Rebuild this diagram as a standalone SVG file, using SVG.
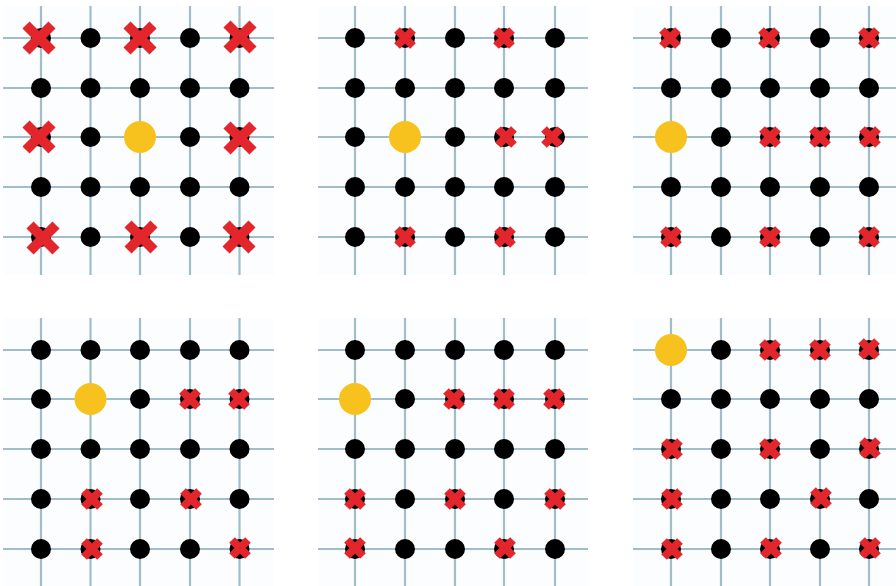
<svg xmlns="http://www.w3.org/2000/svg" width="896" height="586" viewBox="0 0 896 586">
<style>
.bg{fill:#fcfdfe}
.grid line{stroke:#a2bdca;stroke-width:2.2}
.dot{fill:#000}
.start{fill:#f8c21e}
.xb path{stroke:#e2262b;stroke-width:10;fill:none}
.xs path{stroke:#e2262b;stroke-width:8;fill:none}
</style>
<defs>
<circle id="d" class="dot" r="10"/>
<circle id="y" class="start" r="16"/>
<g id="XB" class="xb"><path d="M-13,-13L13,13M13,-13L-13,13"/></g>
<g id="XS" class="xs"><path d="M-8,-8L8,8M8,-8L-8,8"/></g>
</defs>
<rect width="896" height="586" fill="#fff"/>

<!-- Panel 1 -->
<g id="panel1">
<rect class="bg" x="3" y="6" width="271" height="269"/>
<g class="grid" id="grid1">
<line x1="3" y1="38" x2="274" y2="38"/><line x1="3" y1="88" x2="274" y2="88"/><line x1="3" y1="137" x2="274" y2="137"/><line x1="3" y1="187" x2="274" y2="187"/><line x1="3" y1="237" x2="274" y2="237"/>
<line x1="41" y1="6" x2="41" y2="275"/><line x1="90.5" y1="6" x2="90.5" y2="275"/><line x1="140" y1="6" x2="140" y2="275"/><line x1="190" y1="6" x2="190" y2="275"/><line x1="239.5" y1="6" x2="239.5" y2="275"/>
</g>
<g id="p1-dots">
<use href="#d" x="41" y="38"/><use href="#d" x="90.5" y="38"/><use href="#d" x="140" y="38"/><use href="#d" x="190" y="38"/><use href="#d" x="239.5" y="38"/>
<use href="#d" x="41" y="88"/><use href="#d" x="90.5" y="88"/><use href="#d" x="140" y="88"/><use href="#d" x="190" y="88"/><use href="#d" x="239.5" y="88"/>
<use href="#d" x="41" y="137"/><use href="#d" x="90.5" y="137"/><use href="#d" x="190" y="137"/><use href="#d" x="239.5" y="137"/>
<use href="#d" x="41" y="187"/><use href="#d" x="90.5" y="187"/><use href="#d" x="140" y="187"/><use href="#d" x="190" y="187"/><use href="#d" x="239.5" y="187"/>
<use href="#d" x="41" y="237"/><use href="#d" x="90.5" y="237"/><use href="#d" x="140" y="237"/><use href="#d" x="190" y="237"/><use href="#d" x="239.5" y="237"/>
</g>
<use id="p1-start" href="#y" x="140" y="137"/>
<g id="p1-marks">
<use href="#XB" x="39" y="38"/><use href="#XB" x="140" y="38"/><use href="#XB" x="240" y="37"/>
<use href="#XB" x="39" y="137"/><use href="#XB" x="240" y="138"/>
<use href="#XB" x="43" y="238"/><use href="#XB" x="141" y="237"/><use href="#XB" x="239" y="237"/>
</g>
</g>

<!-- Panel 2 -->
<g id="panel2">
<rect class="bg" x="318" y="6" width="270" height="269"/>
<g class="grid" id="grid2">
<line x1="318" y1="38" x2="588" y2="38"/><line x1="318" y1="88" x2="588" y2="88"/><line x1="318" y1="137" x2="588" y2="137"/><line x1="318" y1="187" x2="588" y2="187"/><line x1="318" y1="237" x2="588" y2="237"/>
<line x1="355" y1="6" x2="355" y2="275"/><line x1="405" y1="6" x2="405" y2="275"/><line x1="455" y1="6" x2="455" y2="275"/><line x1="504" y1="6" x2="504" y2="275"/><line x1="555" y1="6" x2="555" y2="275"/>
</g>
<g id="p2-dots">
<use href="#d" x="355" y="38"/><use href="#d" x="405" y="38"/><use href="#d" x="455" y="38"/><use href="#d" x="504" y="38"/><use href="#d" x="555" y="38"/>
<use href="#d" x="355" y="88"/><use href="#d" x="405" y="88"/><use href="#d" x="455" y="88"/><use href="#d" x="504" y="88"/><use href="#d" x="555" y="88"/>
<use href="#d" x="355" y="137"/><use href="#d" x="455" y="137"/><use href="#d" x="504" y="137"/><use href="#d" x="555" y="137"/>
<use href="#d" x="355" y="187"/><use href="#d" x="405" y="187"/><use href="#d" x="455" y="187"/><use href="#d" x="504" y="187"/><use href="#d" x="555" y="187"/>
<use href="#d" x="355" y="237"/><use href="#d" x="405" y="237"/><use href="#d" x="455" y="237"/><use href="#d" x="504" y="237"/><use href="#d" x="555" y="237"/>
</g>
<use id="p2-start" href="#y" x="405" y="137"/>
<g id="p2-marks">
<use href="#XS" x="405" y="38"/><use href="#XS" x="504" y="38"/>
<use href="#XS" x="506" y="137"/><use href="#XS" x="552" y="137"/>
<use href="#XS" x="405" y="237"/><use href="#XS" x="505" y="237"/>
</g>
</g>

<!-- Panel 3 -->
<g id="panel3">
<rect class="bg" x="633" y="6" width="263" height="269"/>
<g class="grid" id="grid3">
<line x1="633" y1="38" x2="896" y2="38"/><line x1="633" y1="88" x2="896" y2="88"/><line x1="633" y1="137" x2="896" y2="137"/><line x1="633" y1="187" x2="896" y2="187"/><line x1="633" y1="237" x2="896" y2="237"/>
<line x1="671" y1="6" x2="671" y2="275"/><line x1="721" y1="6" x2="721" y2="275"/><line x1="770" y1="6" x2="770" y2="275"/><line x1="820" y1="6" x2="820" y2="275"/><line x1="869" y1="6" x2="869" y2="275"/>
</g>
<g id="p3-dots">
<use href="#d" x="671" y="38"/><use href="#d" x="721" y="38"/><use href="#d" x="770" y="38"/><use href="#d" x="820" y="38"/><use href="#d" x="869" y="38"/>
<use href="#d" x="671" y="88"/><use href="#d" x="721" y="88"/><use href="#d" x="770" y="88"/><use href="#d" x="820" y="88"/><use href="#d" x="869" y="88"/>
<use href="#d" x="721" y="137"/><use href="#d" x="770" y="137"/><use href="#d" x="820" y="137"/><use href="#d" x="869" y="137"/>
<use href="#d" x="671" y="187"/><use href="#d" x="721" y="187"/><use href="#d" x="770" y="187"/><use href="#d" x="820" y="187"/><use href="#d" x="869" y="187"/>
<use href="#d" x="671" y="237"/><use href="#d" x="721" y="237"/><use href="#d" x="770" y="237"/><use href="#d" x="820" y="237"/><use href="#d" x="869" y="237"/>
</g>
<use id="p3-start" href="#y" x="671" y="137"/>
<g id="p3-marks">
<use href="#XS" x="670" y="38"/><use href="#XS" x="769" y="38"/><use href="#XS" x="869" y="38"/>
<use href="#XS" x="770" y="137"/><use href="#XS" x="820" y="137"/><use href="#XS" x="870" y="137"/>
<use href="#XS" x="671" y="237"/><use href="#XS" x="770" y="237"/><use href="#XS" x="869" y="237"/>
</g>
</g>

<!-- Panel 4 -->
<g id="panel4">
<rect class="bg" x="3" y="318" width="271" height="268"/>
<g class="grid" id="grid4">
<line x1="3" y1="350" x2="274" y2="350"/><line x1="3" y1="399" x2="274" y2="399"/><line x1="3" y1="449" x2="274" y2="449"/><line x1="3" y1="499" x2="274" y2="499"/><line x1="3" y1="549" x2="274" y2="549"/>
<line x1="41" y1="318" x2="41" y2="586"/><line x1="90.5" y1="318" x2="90.5" y2="586"/><line x1="140" y1="318" x2="140" y2="586"/><line x1="190" y1="318" x2="190" y2="586"/><line x1="239.5" y1="318" x2="239.5" y2="586"/>
</g>
<g id="p4-dots">
<use href="#d" x="41" y="350"/><use href="#d" x="90.5" y="350"/><use href="#d" x="140" y="350"/><use href="#d" x="190" y="350"/><use href="#d" x="239.5" y="350"/>
<use href="#d" x="41" y="399"/><use href="#d" x="140" y="399"/><use href="#d" x="190" y="399"/><use href="#d" x="239.5" y="399"/>
<use href="#d" x="41" y="449"/><use href="#d" x="90.5" y="449"/><use href="#d" x="140" y="449"/><use href="#d" x="190" y="449"/><use href="#d" x="239.5" y="449"/>
<use href="#d" x="41" y="499"/><use href="#d" x="90.5" y="499"/><use href="#d" x="140" y="499"/><use href="#d" x="190" y="499"/><use href="#d" x="239.5" y="499"/>
<use href="#d" x="41" y="549"/><use href="#d" x="90.5" y="549"/><use href="#d" x="140" y="549"/><use href="#d" x="190" y="549"/><use href="#d" x="239.5" y="549"/>
</g>
<use id="p4-start" href="#y" x="90.5" y="399"/>
<g id="p4-marks">
<use href="#XS" x="190" y="399"/><use href="#XS" x="239" y="399"/>
<use href="#XS" x="92" y="499"/><use href="#XS" x="191" y="499"/>
<use href="#XS" x="92" y="549"/><use href="#XS" x="240" y="548"/>
</g>
</g>

<!-- Panel 5 -->
<g id="panel5">
<rect class="bg" x="318" y="318" width="270" height="268"/>
<g class="grid" id="grid5">
<line x1="318" y1="350" x2="588" y2="350"/><line x1="318" y1="399" x2="588" y2="399"/><line x1="318" y1="449" x2="588" y2="449"/><line x1="318" y1="499" x2="588" y2="499"/><line x1="318" y1="549" x2="588" y2="549"/>
<line x1="355" y1="318" x2="355" y2="586"/><line x1="405" y1="318" x2="405" y2="586"/><line x1="455" y1="318" x2="455" y2="586"/><line x1="504" y1="318" x2="504" y2="586"/><line x1="555" y1="318" x2="555" y2="586"/>
</g>
<g id="p5-dots">
<use href="#d" x="355" y="350"/><use href="#d" x="405" y="350"/><use href="#d" x="455" y="350"/><use href="#d" x="504" y="350"/><use href="#d" x="555" y="350"/>
<use href="#d" x="405" y="399"/><use href="#d" x="455" y="399"/><use href="#d" x="504" y="399"/><use href="#d" x="555" y="399"/>
<use href="#d" x="355" y="449"/><use href="#d" x="405" y="449"/><use href="#d" x="455" y="449"/><use href="#d" x="504" y="449"/><use href="#d" x="555" y="449"/>
<use href="#d" x="355" y="499"/><use href="#d" x="405" y="499"/><use href="#d" x="455" y="499"/><use href="#d" x="504" y="499"/><use href="#d" x="555" y="499"/>
<use href="#d" x="355" y="549"/><use href="#d" x="405" y="549"/><use href="#d" x="455" y="549"/><use href="#d" x="504" y="549"/><use href="#d" x="555" y="549"/>
</g>
<use id="p5-start" href="#y" x="355" y="399"/>
<g id="p5-marks">
<use href="#XS" x="454" y="399"/><use href="#XS" x="504" y="399"/><use href="#XS" x="554" y="399"/>
<use href="#XS" x="355" y="499"/><use href="#XS" x="455" y="499"/><use href="#XS" x="555" y="499"/>
<use href="#XS" x="355" y="548"/><use href="#XS" x="505" y="548"/>
</g>
</g>

<!-- Panel 6 -->
<g id="panel6">
<rect class="bg" x="633" y="318" width="263" height="268"/>
<g class="grid" id="grid6">
<line x1="633" y1="350" x2="896" y2="350"/><line x1="633" y1="399" x2="896" y2="399"/><line x1="633" y1="449" x2="896" y2="449"/><line x1="633" y1="499" x2="896" y2="499"/><line x1="633" y1="549" x2="896" y2="549"/>
<line x1="671" y1="318" x2="671" y2="586"/><line x1="721" y1="318" x2="721" y2="586"/><line x1="770" y1="318" x2="770" y2="586"/><line x1="820" y1="318" x2="820" y2="586"/><line x1="869" y1="318" x2="869" y2="586"/>
</g>
<g id="p6-dots">
<use href="#d" x="721" y="350"/><use href="#d" x="770" y="350"/><use href="#d" x="820" y="350"/><use href="#d" x="869" y="350"/>
<use href="#d" x="671" y="399"/><use href="#d" x="721" y="399"/><use href="#d" x="770" y="399"/><use href="#d" x="820" y="399"/><use href="#d" x="869" y="399"/>
<use href="#d" x="671" y="449"/><use href="#d" x="721" y="449"/><use href="#d" x="770" y="449"/><use href="#d" x="820" y="449"/><use href="#d" x="869" y="449"/>
<use href="#d" x="671" y="499"/><use href="#d" x="721" y="499"/><use href="#d" x="770" y="499"/><use href="#d" x="820" y="499"/><use href="#d" x="869" y="499"/>
<use href="#d" x="671" y="549"/><use href="#d" x="721" y="549"/><use href="#d" x="770" y="549"/><use href="#d" x="820" y="549"/><use href="#d" x="869" y="549"/>
</g>
<use id="p6-start" href="#y" x="671" y="350"/>
<g id="p6-marks">
<use href="#XS" x="770" y="350"/><use href="#XS" x="820" y="350"/><use href="#XS" x="869" y="349"/>
<use href="#XS" x="672" y="449"/><use href="#XS" x="770" y="449"/><use href="#XS" x="870" y="448"/>
<use href="#XS" x="672" y="499"/><use href="#XS" x="821" y="498"/>
<use href="#XS" x="672" y="549"/><use href="#XS" x="771" y="548"/><use href="#XS" x="870" y="548"/>
</g>
</g>
</svg>
